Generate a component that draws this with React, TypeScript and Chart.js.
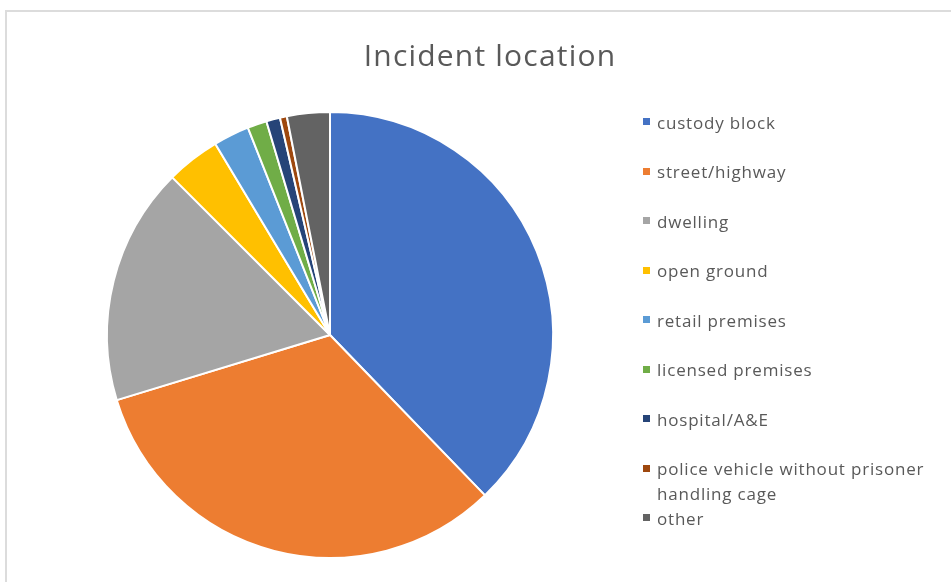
import React, { useEffect, useRef } from "react";
import { Chart, registerables } from "chart.js";

Chart.register(...registerables);

const titleText = "Incident location";
const categories = [
  "custody block",
  "street/highway",
  "dwelling",
  "open ground",
  "retail premises",
  "licensed premises",
  "hospital/A&E",
  "police vehicle without prisoner handling cage",
  "other",
];
const shares = [37.75, 32.5, 17.2, 3.9, 2.6, 1.4, 1.0, 0.5, 3.1];
const sliceColors = [
  "#4472C4",
  "#ED7D31",
  "#A5A5A5",
  "#FFC000",
  "#5B9BD5",
  "#70AD47",
  "#264478",
  "#9E480E",
  "#636363",
];

const FONT = "'Open Sans', 'Noto Sans', sans-serif";
const TEXT_COLOR = "#595959";

export default function App() {
  const ref = useRef<HTMLCanvasElement | null>(null);

  useEffect(() => {
    if (!ref.current) return;
    const chart = new Chart(ref.current, {
      type: "pie",
      data: {
        labels: categories,
        datasets: [
          {
            data: shares,
            backgroundColor: sliceColors,
            borderColor: "#ffffff",
            borderWidth: 2,
          },
        ],
      },
      options: {
        responsive: false,
        animation: false,
        layout: { padding: { left: 106, right: 397, top: 111, bottom: 23 } },
        plugins: {
          legend: { display: false },
          title: { display: false },
          tooltip: { enabled: false },
        },
      },
    });
    return () => chart.destroy();
  }, []);

  return (
    <div style={{ position: "fixed", left: 0, top: 0, width: 951, height: 582, overflow: "hidden", background: "#fff" }}>
      <div
        style={{
          position: "absolute",
          left: 5,
          top: 10,
          width: 980,
          height: 600,
          border: "2px solid #dcdcdc",
          boxSizing: "border-box",
        }}
      />
      <canvas ref={ref} width={951} height={582} style={{ position: "absolute", left: 0, top: 0 }} />
      <div
        style={{
          position: "absolute",
          left: 240,
          width: 500,
          top: 36,
          textAlign: "center",
          fontFamily: FONT,
          fontSize: 30,
          letterSpacing: "1.2px",
          lineHeight: "38px",
          color: TEXT_COLOR,
          whiteSpace: "nowrap",
        }}
      >
        {titleText}
      </div>
      <div style={{ position: "absolute", left: 640, top: 110.6, width: 300, fontFamily: FONT, color: TEXT_COLOR }}>
        {categories.map((c, i) => (
          <div key={c} style={{ position: "relative", height: 49.5, paddingLeft: 17, boxSizing: "border-box" }}>
            <span
              style={{
                position: "absolute",
                left: 3,
                top: 7.5,
                width: 7,
                height: 7,
                background: sliceColors[i],
              }}
            />
            <div style={{ fontSize: 17, letterSpacing: "0.8px", lineHeight: "24.75px", width: 282 }}>{c}</div>
          </div>
        ))}
      </div>
    </div>
  );
}
